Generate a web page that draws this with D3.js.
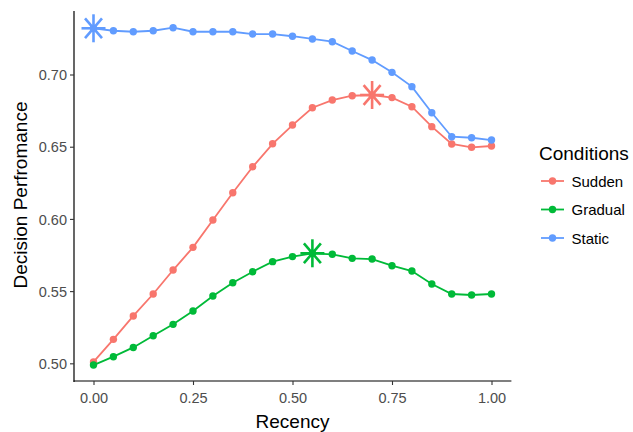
<!DOCTYPE html>
<html>
<head>
<meta charset="utf-8">
<script src="https://cdn.jsdelivr.net/npm/d3@7"></script>
<style>
html,body{margin:0;padding:0;background:#fff;}
svg{display:block;font-family:Arial,"Liberation Sans",sans-serif;}
</style>
</head>
<body>
<svg id="chart" width="633" height="432"></svg>
<script>
const recency = [0,0.05,0.1,0.15,0.2,0.25,0.3,0.35,0.4,0.45,0.5,0.55,0.6,0.65,0.7,0.75,0.8,0.85,0.9,0.95,1.0];
const sudden  = [0.501,0.5166,0.5328,0.548,0.5646,0.5803,0.5992,0.6181,0.6361,0.652,0.665,0.677,0.6823,0.6853,0.6858,0.684,0.6777,0.6639,0.6519,0.6496,0.6505];
const gradual = [0.4988,0.5046,0.511,0.5191,0.527,0.5362,0.5466,0.5558,0.5634,0.5704,0.5739,0.5762,0.5755,0.5727,0.5722,0.5676,0.5639,0.5549,0.548,0.5473,0.548];
const staticV = [0.732,0.7303,0.7296,0.7303,0.7324,0.7296,0.7296,0.7296,0.728,0.728,0.7265,0.7246,0.7227,0.7163,0.710,0.7015,0.6916,0.6735,0.6569,0.6562,0.6546];
const seriesNames = ["Sudden","Gradual","Static"];
const seriesColors = ["#F8766D","#00BA38","#619CFF"];
const bestIndex = [14, 11, 0];
const xTicks = [0,0.25,0.5,0.75,1.0];
const yTicks = [0.50,0.55,0.60,0.65,0.70];
const legendTitle = "Conditions";
const xTitle = "Recency";
const yTitle = "Decision Perfromance";

const seriesValues = [sudden, gradual, staticV];
const svg = d3.select("#chart");
const x = d3.scaleLinear().domain([-0.05,1.05]).range([73.6,511.4]);
const y = d3.scaleLinear().domain([0.487,0.744]).range([382.1,10.96]);

// axes
const xAxis = d3.axisBottom(x).tickValues(xTicks).tickFormat(d3.format(".2f")).tickSize(4).tickPadding(0);
const yAxis = d3.axisLeft(y).tickValues(yTicks).tickFormat(d3.format(".2f")).tickSize(4).tickPadding(3);
const gx = svg.append("g").attr("transform","translate(0,381)").call(xAxis);
const gy = svg.append("g").attr("transform","translate(74,0)").call(yAxis);
[gx,gy].forEach(g=>{
  g.select(".domain").attr("stroke","#000").attr("stroke-width",1.2);
  g.selectAll(".tick line").attr("stroke","#333").attr("stroke-width",1.1);
  g.selectAll(".tick text").attr("fill","#4D4D4D").style("font-size","14.5px").style("font-family","Arial,'Liberation Sans',sans-serif");
});
gx.selectAll(".tick text").attr("dy",null).attr("y",22);
gy.selectAll(".tick text").attr("dy","0.36em");
gx.select(".domain").attr("d","M73.6,0H511.4");
gy.select(".domain").attr("d","M0,382.1V10.96");

// lines
const line = d3.line().x((d,i)=>x(recency[i])).y(d=>y(d));
seriesValues.forEach((vals,k)=>{
  const g = svg.append("g");
  g.append("path").datum(vals).attr("d",line).attr("fill","none")
    .attr("stroke",seriesColors[k]).attr("stroke-width",1.8);
  g.selectAll("circle").data(vals).enter().append("circle")
    .attr("cx",(d,i)=>x(recency[i])).attr("cy",d=>y(d)).attr("r",3.7)
    .attr("fill",seriesColors[k]);
  // asterisk
  const bi = bestIndex[k];
  const cx = x(recency[bi]), cy = y(vals[bi]);
  const RX = 12, RY = 14;
  const star = g.append("g").attr("transform",`translate(${cx},${cy})`);
  [0,45,90,135].forEach(a=>{
    const r = a*Math.PI/180;
    star.append("line").attr("x1",-RX*Math.cos(r)).attr("y1",-RY*Math.sin(r))
      .attr("x2",RX*Math.cos(r)).attr("y2",RY*Math.sin(r))
      .attr("stroke",seriesColors[k]).attr("stroke-width",2.6);
  });
});

// axis titles
svg.append("text").attr("x",x(0.5)).attr("y",428).attr("text-anchor","middle")
  .style("font-size","19px").attr("fill","#000").text(xTitle);
svg.append("text").attr("transform","translate(27,195) rotate(-90)").attr("text-anchor","middle")
  .style("font-size","19px").attr("fill","#000").text(yTitle);

// legend
const lg = svg.append("g");
lg.append("text").attr("x",539).attr("y",159.5).style("font-size","19px").attr("fill","#000").text(legendTitle);
const rowY = [181,209.5,238];
seriesNames.forEach((n,k)=>{
  lg.append("line").attr("x1",541).attr("x2",564).attr("y1",rowY[k]).attr("y2",rowY[k])
    .attr("stroke",seriesColors[k]).attr("stroke-width",1.8);
  lg.append("circle").attr("cx",552.5).attr("cy",rowY[k]).attr("r",3.7).attr("fill",seriesColors[k]);
  lg.append("text").attr("x",571.5).attr("y",rowY[k]+5.5).style("font-size","15px").attr("fill","#000").text(n);
});
</script>
</body>
</html>
